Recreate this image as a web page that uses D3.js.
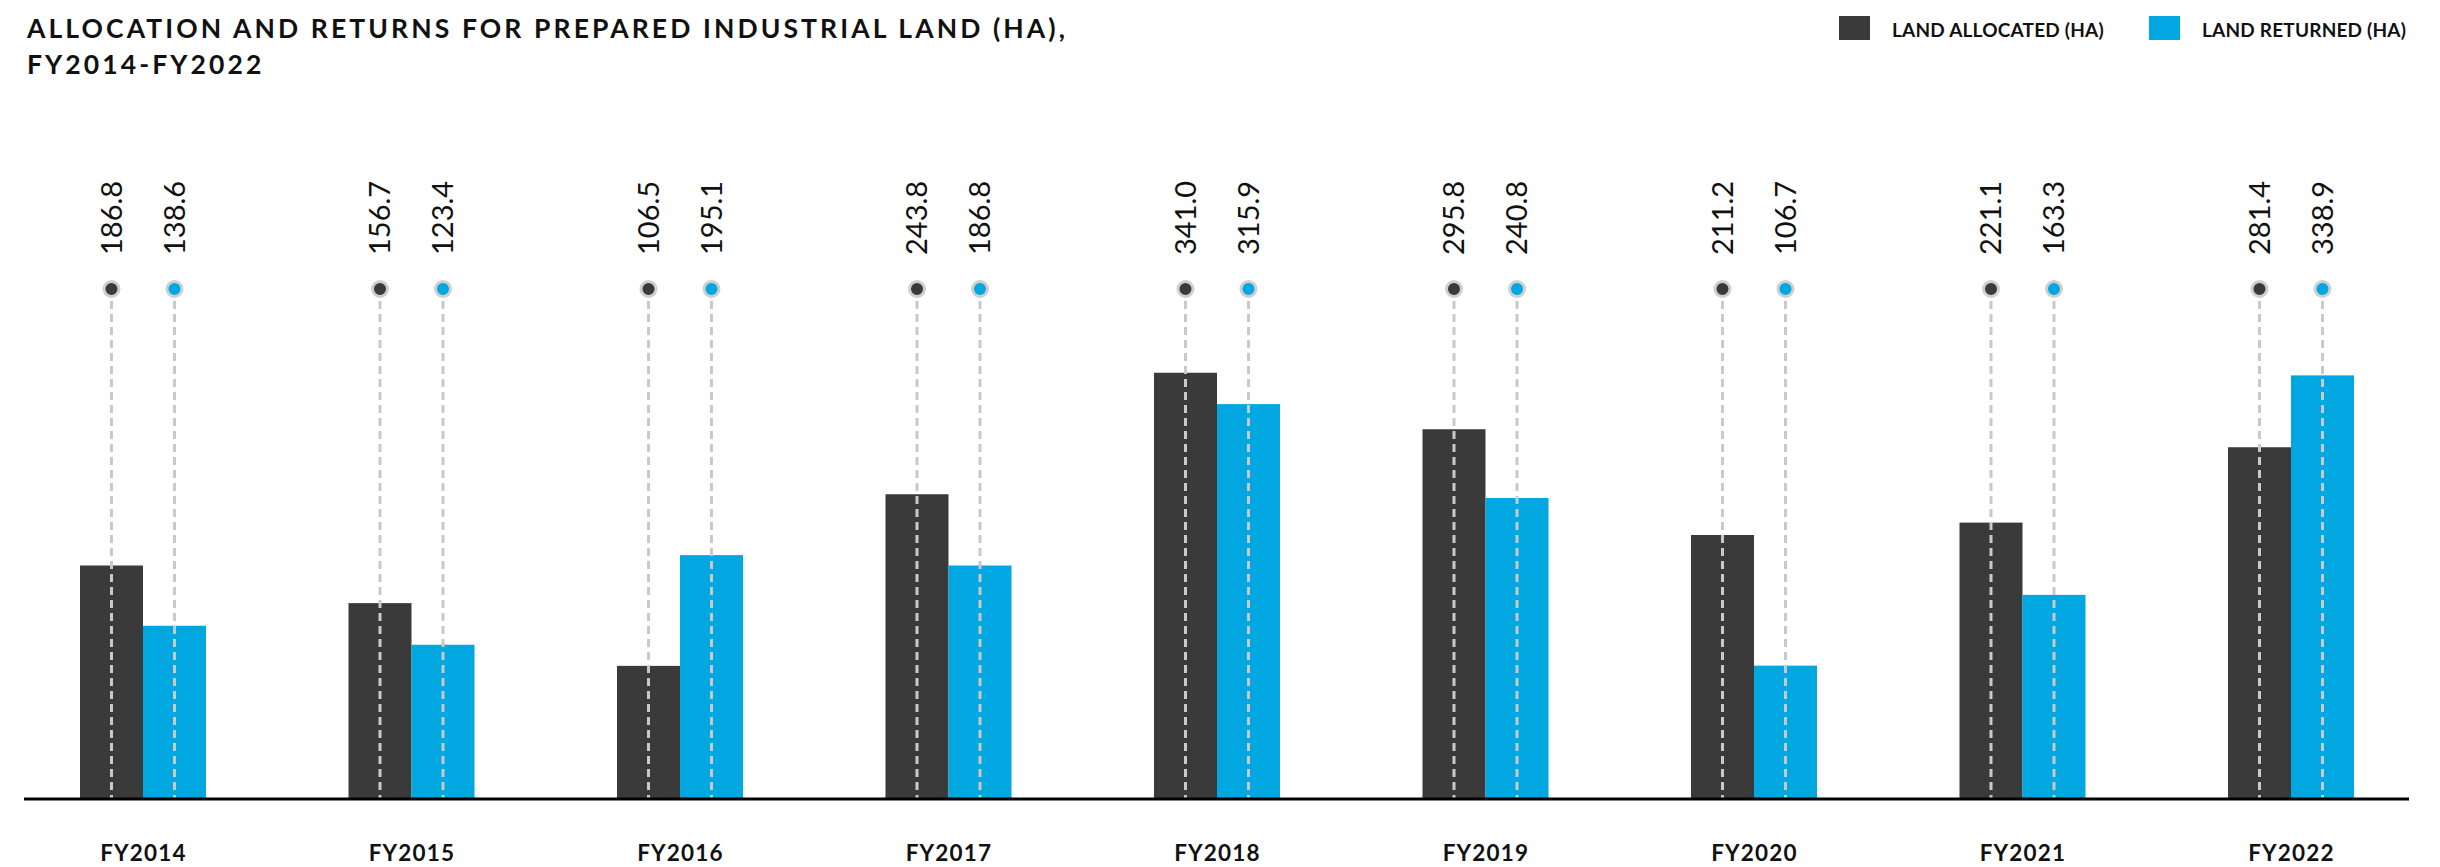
<!DOCTYPE html>
<html>
<head>
<meta charset="utf-8">
<script src="https://cdn.jsdelivr.net/npm/d3@7"></script>
<style>
  html, body { margin: 0; padding: 0; background: #fff; }
  svg { display: block; }
  text { font-family: Lato, "Open Sans", sans-serif; }
</style>
</head>
<body>
<svg id="chart" width="2440" height="867"></svg>
<script>
// Prepared industrial land, hectares per financial year
const years = ["FY2014", "FY2015", "FY2016", "FY2017", "FY2018", "FY2019", "FY2020", "FY2021", "FY2022"];
const landAllocated = [186.8, 156.7, 106.5, 243.8, 341.0, 295.8, 211.2, 221.1, 281.4];
const landReturned  = [138.6, 123.4, 195.1, 186.8, 315.9, 240.8, 106.7, 163.3, 338.9];
const seriesNames = ["LAND ALLOCATED (HA)", "LAND RETURNED (HA)"];
const seriesColors = ["#3a3a3a", "#00a7e0"];
const titleLines = ["ALLOCATION AND RETURNS FOR PREPARED INDUSTRIAL LAND (HA),", "FY2014-FY2022"];

const svg = d3.select("#chart");
const baseY = 799;
const markerY = 289;

const x = d3.scalePoint().domain(years).range([143, 2291]);
const xInner = d3.scaleBand().domain([0, 1]).range([-63, 63]).padding(0);
const y = d3.scaleLinear().domain([0, 400]).range([baseY, baseY - 500]);

const rows = years.map((yr, i) => ({ yr, vals: [landAllocated[i], landReturned[i]] }));

// Title
svg.append("text")
  .attr("x", 27).attr("y", 38)
  .attr("font-size", 26.5).attr("font-weight", 700).attr("fill", "#111")
  .attr("letter-spacing", 3.1)
  .selectAll("tspan").data(titleLines).join("tspan")
  .attr("x", 27).attr("dy", (d, i) => i === 0 ? 0 : 36)
  .text(d => d);

// Legend
const legendX = [1839, 2149];
const legend = svg.append("g").selectAll("g").data(seriesNames).join("g")
  .attr("transform", (d, i) => `translate(${legendX[i]},16)`);
legend.append("rect").attr("width", 31).attr("height", 24).attr("fill", (d, i) => seriesColors[i]);
legend.append("text").attr("x", 53).attr("y", 21)
  .attr("font-size", 19).attr("font-weight", 700).attr("fill", "#111")
  .attr("letter-spacing", 0.2)
  .text(d => d);

// Groups
const groups = svg.append("g").selectAll("g").data(rows).join("g")
  .attr("transform", d => `translate(${x(d.yr)},0)`);

const cells = groups.selectAll("g.cell")
  .data(d => d.vals.map((v, k) => ({ v, k })))
  .join("g").attr("class", "cell");

// Bars
cells.append("rect")
  .attr("x", d => xInner(d.k))
  .attr("width", xInner.bandwidth())
  .attr("y", d => y(d.v))
  .attr("height", d => baseY - y(d.v))
  .attr("fill", d => seriesColors[d.k]);

// Dashed leader lines running through the bar centres
cells.append("line")
  .attr("x1", d => xInner(d.k) + xInner.bandwidth() / 2)
  .attr("x2", d => xInner(d.k) + xInner.bandwidth() / 2)
  .attr("y1", markerY + 12)
  .attr("y2", baseY)
  .attr("stroke", "#c9c9c9")
  .attr("stroke-width", 3)
  .attr("stroke-dasharray", "8,5");

// Marker dots
cells.append("circle")
  .attr("cx", d => xInner(d.k) + xInner.bandwidth() / 2)
  .attr("cy", markerY)
  .attr("r", 7.5)
  .attr("fill", d => seriesColors[d.k])
  .attr("stroke", "#cfcfcf")
  .attr("stroke-width", 3);

// Value labels, rotated
cells.append("text")
  .attr("transform", d => `translate(${xInner(d.k) + xInner.bandwidth() / 2},255) rotate(-90)`)
  .attr("dy", "0.35em")
  .attr("text-anchor", "start")
  .attr("font-size", 29)
  .attr("fill", "#111")
  .text(d => d3.format(".1f")(d.v));

// Baseline
svg.append("line")
  .attr("x1", 24).attr("x2", 2409)
  .attr("y1", baseY).attr("y2", baseY)
  .attr("stroke", "#000").attr("stroke-width", 3);

// Category axis
const axis = svg.append("g")
  .attr("transform", `translate(0,${baseY})`)
  .call(d3.axisBottom(x).tickSize(0).tickPadding(0));
axis.select(".domain").remove();
axis.selectAll("text")
  .attr("y", 62)
  .attr("dy", 0)
  .attr("font-size", 22.5)
  .attr("font-weight", 700)
  .attr("letter-spacing", 1.2)
  .attr("fill", "#111")
  .style("font-family", "Lato, sans-serif");
</script>
</body>
</html>
